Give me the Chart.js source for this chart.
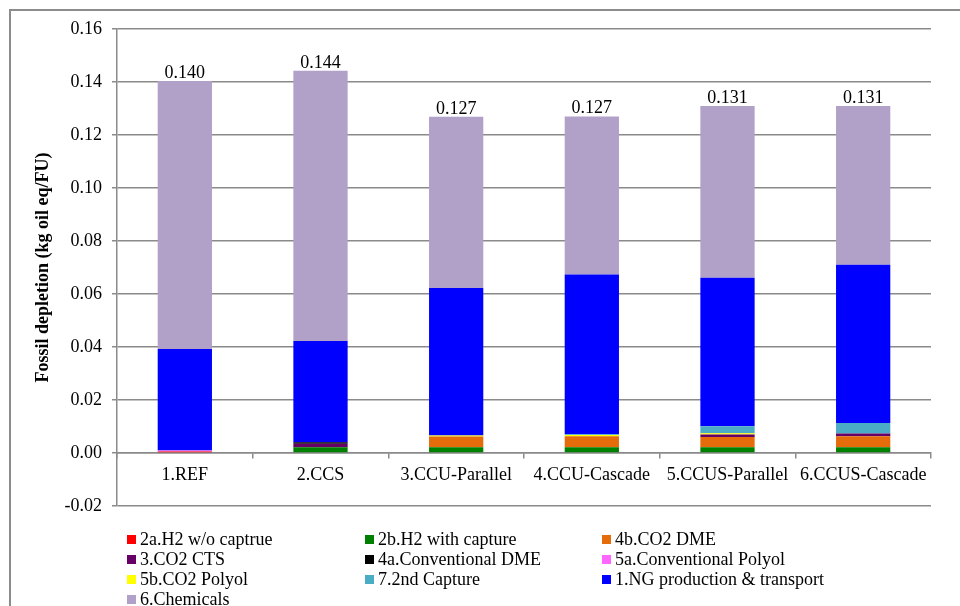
<!DOCTYPE html>
<html>
<head>
<meta charset="utf-8">
<script src="https://cdn.jsdelivr.net/npm/chart.js@4/dist/chart.umd.min.js"></script>
<style>
html, body { margin: 0; padding: 0; background: #fff; }
#wrap { position: relative; width: 960px; height: 606px; overflow: hidden; }
#frame { position: absolute; left: 9px; top: 9px; width: 1000px; height: 700px; border: 2px solid #8c8c8c; box-sizing: border-box; }
#chart { position: absolute; left: 0; top: 0; }
#legend { position: absolute; left: 127px; top: 529px; display: grid; grid-template-columns: 238px 237px 260px; grid-auto-rows: 20px; font: 18px "Liberation Serif", serif; color: #000; }
#legend div { display: flex; align-items: center; white-space: nowrap; }
#legend span { display: inline-block; width: 9px; height: 9px; margin-right: 4px; }
</style>
</head>
<body>
<div id="wrap">
  <div id="frame"></div>
  <canvas id="chart" width="960" height="606"></canvas>
  <div id="legend"></div>
</div>
<script>
const categories = ["1.REF", "2.CCS", "3.CCU-Parallel", "4.CCU-Cascade", "5.CCUS-Parallel", "6.CCUS-Cascade"];

// stack order bottom -> top, same as legend order
const h2NoCapture   = [0.0006, 0,      0,      0,      0,      0];
const h2Capture     = [0,      0.0022, 0.0022, 0.0022, 0.0022, 0.0022];
const co2Dme        = [0,      0,      0.0040, 0.0041, 0.0038, 0.0041];
const co2Cts        = [0,      0.0013, 0,      0,      0.0010, 0.0011];
const convDme       = [0,      0.0006, 0,      0,      0,      0];
const convPolyol    = [0.0003, 0,      0,      0,      0,      0];
const co2Polyol     = [0,      0,      0.0004, 0.0005, 0.0005, 0];
const secondCapture = [0,      0,      0,      0.0003, 0.0026, 0.0039];
const ngProduction  = [0.0383, 0.0382, 0.0557, 0.0603, 0.0560, 0.0597];
const chemicals     = [0.1012, 0.1019, 0.0646, 0.0596, 0.0648, 0.0599];

const yTicks = [-0.02, 0.16, 0.02]; // min, max, step

const GRID = "#8a8a8a";
const SERIF = "'Liberation Serif', 'Times New Roman', serif";

const series = [
    {label: "2a.H2 w/o captrue", data: h2NoCapture, color: "#ff0000"},
    {label: "2b.H2 with capture", data: h2Capture, color: "#008000"},
    {label: "4b.CO2 DME", data: co2Dme, color: "#e46c0a"},
    {label: "3.CO2 CTS", data: co2Cts, color: "#660066"},
    {label: "4a.Conventional DME", data: convDme, color: "#000000"},
    {label: "5a.Conventional Polyol", data: convPolyol, color: "#ff66ff"},
    {label: "5b.CO2 Polyol", data: co2Polyol, color: "#ffff00"},
    {label: "7.2nd Capture", data: secondCapture, color: "#4bacc6"},
    {label: "1.NG production & transport", data: ngProduction, color: "#0000ff"},
    {label: "6.Chemicals", data: chemicals, color: "#b1a0c7"},
];

const totalLabels = {
    id: "totalLabels",
    afterDatasetsDraw(chart) {
        const ctx = chart.ctx;
        const meta = chart.getDatasetMeta(chart.data.datasets.length - 1);
        ctx.save();
        ctx.font = "18px " + SERIF;
        ctx.fillStyle = "#000";
        ctx.textAlign = "center";
        ctx.textBaseline = "alphabetic";
        meta.data.forEach((bar, i) => {
            const total = chart.data.datasets.reduce((s, d) => s + d.data[i], 0);
            ctx.fillText(total.toFixed(3), bar.x, bar.y - 3);
        });
        ctx.restore();
    }
};

new Chart(document.getElementById("chart"), {
    type: "bar",
    data: {
        labels: categories,
        datasets: series.map(s => ({
            label: s.label,
            data: s.data,
            backgroundColor: s.color,
            borderWidth: 0,
            categoryPercentage: 1,
            barPercentage: 0.4,
        })),
    },
    options: {
        responsive: false,
        animation: false,
        devicePixelRatio: 1,
        layout: {padding: {left: 0, right: 29, top: 29, bottom: 100}},
        plugins: {legend: {display: false}, tooltip: {enabled: false}},
        scales: {
            x: {
                stacked: true,
                position: {y: 0},
                grid: {offset: true, drawOnChartArea: false, tickLength: 5, color: GRID, lineWidth: 1.5},
                border: {color: GRID, width: 1.5},
                ticks: {font: {family: SERIF, size: 18}, color: "#000", padding: 6, maxRotation: 0, autoSkip: false},
            },
            y: {
                stacked: true,
                min: yTicks[0],
                max: yTicks[1],
                ticks: {
                    stepSize: yTicks[2],
                    font: {family: SERIF, size: 18},
                    color: "#000",
                    padding: 10,
                    callback: v => Number(v).toFixed(2),
                },
                grid: {color: GRID, lineWidth: 1.5, tickLength: 5},
                border: {color: GRID, width: 1.5},
                title: {
                    display: true,
                    text: "Fossil depletion (kg oil eq/FU)",
                    font: {family: SERIF, size: 18, weight: "bold"},
                    color: "#000",
                    padding: {top: 33, bottom: 0},
                },
                afterFit(scale) {
                    scale.width = 117;
                    scale.paddingTop = 0;
                    scale.paddingBottom = 0;
                },
            },
        },
    },
    plugins: [totalLabels],
});

// legend in the same 3-column grid as the original
const legend = document.getElementById("legend");
for (const s of series) {
    const item = document.createElement("div");
    const box = document.createElement("span");
    box.style.background = s.color;
    item.appendChild(box);
    item.appendChild(document.createTextNode(s.label));
    legend.appendChild(item);
}
</script>
</body>
</html>
